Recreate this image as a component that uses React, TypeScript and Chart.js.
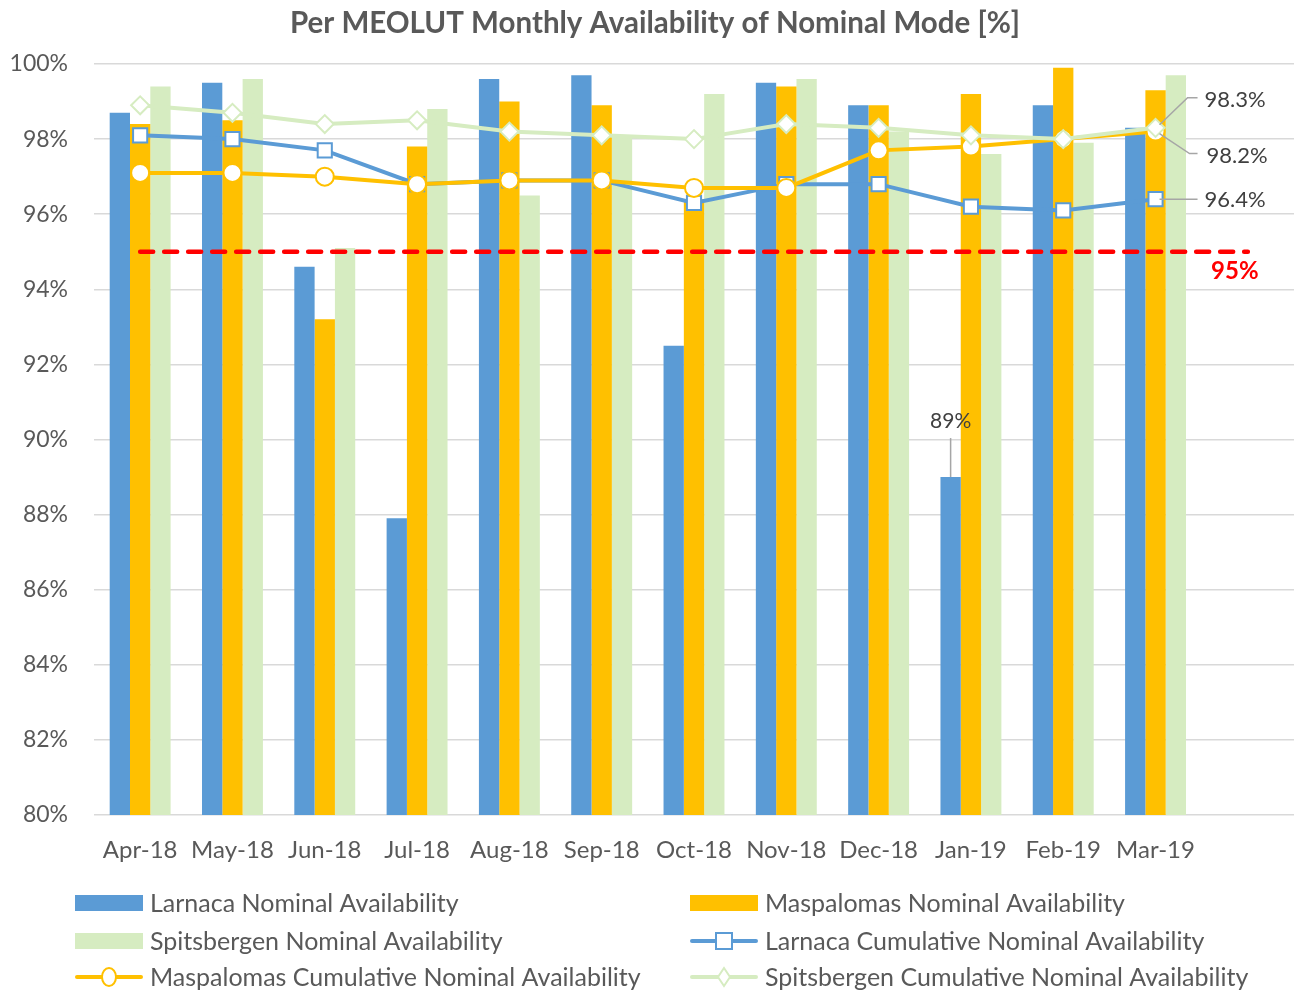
import React, { useEffect, useRef } from "react";
import { Chart, registerables } from "chart.js";

Chart.register(...registerables);

const categories = ["Apr-18", "May-18", "Jun-18", "Jul-18", "Aug-18", "Sep-18", "Oct-18", "Nov-18", "Dec-18", "Jan-19", "Feb-19", "Mar-19", ""];
const larnaca = [98.7, 99.5, 94.6, 87.9, 99.6, 99.7, 92.5, 99.5, 98.9, 89.0, 98.9, 98.3];
const maspalomas = [98.4, 98.5, 93.2, 97.8, 99.0, 98.9, 96.4, 99.4, 98.9, 99.2, 99.9, 99.3];
const spitsbergen = [99.4, 99.6, 95.1, 98.8, 96.5, 98.1, 99.2, 99.6, 98.2, 97.6, 97.9, 99.7];
const larnacaCum = [98.1, 98.0, 97.7, 96.8, 96.9, 96.9, 96.3, 96.8, 96.8, 96.2, 96.1, 96.4];
const maspalomasCum = [97.1, 97.1, 97.0, 96.8, 96.9, 96.9, 96.7, 96.7, 97.7, 97.8, 98.0, 98.2];
const spitsbergenCum = [98.9, 98.7, 98.4, 98.5, 98.2, 98.1, 98.0, 98.4, 98.3, 98.1, 98.0, 98.3];
const threshold = [95, 95, 95, 95, 95, 95, 95, 95, 95, 95, 95, 95, 95];
const yTicks = [80, 82, 84, 86, 88, 90, 92, 94, 96, 98, 100];
const labelledMonth = "Jan-19";

const BLUE = "#5B9BD5";
const ORANGE = "#FFC000";
const GREEN = "#D6ECC1";
const TEXT = "#595959";
const FONT = "Lato, 'Open Sans', sans-serif";

const fmt = (v: number) => v.toFixed(1) + "%";

const annotations = {
  id: "annotations",
  afterDatasetsDraw(chart: any) {
    const ctx = chart.ctx;
    const xs = chart.scales.x;
    const ys = chart.scales.y;
    ctx.save();
    // data label on Larnaca Jan-19 bar
    const idx = categories.indexOf(labelledMonth);
    const barMeta = chart.getDatasetMeta(4);
    const bar = barMeta.data[idx];
    const yTop = ys.getPixelForValue(larnaca[idx]);
    ctx.strokeStyle = "#A6A6A6";
    ctx.lineWidth = 1.5;
    ctx.beginPath();
    ctx.moveTo(bar.x, yTop);
    ctx.lineTo(bar.x, yTop - 39);
    ctx.stroke();
    ctx.fillStyle = "#404040";
    ctx.font = `21px ${FONT}`;
    ctx.textAlign = "center";
    ctx.textBaseline = "middle";
    ctx.fillText(Math.round(larnaca[idx]) + "%", bar.x, yTop - 56);

    // right-side labels for cumulative series
    const last = larnacaCum.length - 1;
    const px = xs.getPixelForValue(last);
    const lblX = px + 49;
    const yS = ys.getPixelForValue(spitsbergenCum[last]);
    const yM = ys.getPixelForValue(maspalomasCum[last]);
    const yL = ys.getPixelForValue(larnacaCum[last]);
    ctx.strokeStyle = "#A6A6A6";
    ctx.lineWidth = 1.5;
    ctx.beginPath();
    ctx.moveTo(px + 4, yS - 3);
    ctx.lineTo(px + 32, yS - 30);
    ctx.lineTo(px + 42, yS - 30);
    ctx.moveTo(px + 4, yM + 2);
    ctx.lineTo(px + 34, yM + 22);
    ctx.lineTo(px + 42, yM + 22);
    ctx.moveTo(px + 4, yL);
    ctx.lineTo(px + 42, yL);
    ctx.stroke();
    ctx.fillStyle = "#404040";
    ctx.textAlign = "left";
    ctx.font = `22px ${FONT}`;
    ctx.fillText(fmt(spitsbergenCum[last]), lblX, yS - 28);
    ctx.fillText(fmt(maspalomasCum[last]), lblX + 2, yM + 24);
    ctx.fillText(fmt(larnacaCum[last]), lblX, yL + 1);

    // 95% label
    const pEnd = xs.getPixelForValue(threshold.length - 1);
    ctx.fillStyle = "#FF0000";
    ctx.font = `bold 24px ${FONT}`;
    ctx.textAlign = "center";
    ctx.fillText(threshold[0] + "%", pEnd - 13, ys.getPixelForValue(threshold[0]) + 20);
    ctx.restore();
  },
  afterDraw(chart: any) {
    const ctx = chart.ctx;
    ctx.save();
    ctx.fillStyle = TEXT;
    ctx.font = `bold 29.5px ${FONT}`;
    ctx.textAlign = "center";
    ctx.textBaseline = "middle";
    ctx.fillText("Per MEOLUT Monthly Availability of Nominal Mode [%]", 655, 23);

    const items = [
      { ds: 4, col: 0, row: 0 },
      { ds: 5, col: 1, row: 0 },
      { ds: 6, col: 0, row: 1 },
      { ds: 3, col: 1, row: 1 },
      { ds: 2, col: 0, row: 2 },
      { ds: 1, col: 1, row: 2 },
    ];
    const colX = [75, 690];
    const rowY = [903, 941, 977];
    ctx.font = `25px ${FONT}`;
    ctx.textAlign = "left";
    items.forEach((it) => {
      const d = chart.data.datasets[it.ds];
      const x = colX[it.col];
      const y = rowY[it.row];
      if (d.type === "bar") {
        ctx.fillStyle = d.backgroundColor;
        ctx.fillRect(x, y - 8, 68, 16);
      } else {
        ctx.strokeStyle = d.borderColor;
        ctx.lineWidth = 4;
        ctx.lineCap = "round";
        ctx.beginPath();
        ctx.moveTo(x + 2, y);
        ctx.lineTo(x + 66, y);
        ctx.stroke();
        const cx = x + 34;
        ctx.fillStyle = "#FFFFFF";
        ctx.strokeStyle = d.pointBorderColor;
        ctx.lineWidth = 2;
        ctx.beginPath();
        if (d.pointStyle === "rect") {
          ctx.rect(cx - 8, y - 8, 16, 16);
        } else if (d.pointStyle === "circle") {
          ctx.ellipse(cx, y, 7, 9, 0, 0, Math.PI * 2);
        } else {
          ctx.moveTo(cx, y - 9);
          ctx.lineTo(cx + 6, y);
          ctx.lineTo(cx, y + 9);
          ctx.lineTo(cx - 6, y);
          ctx.closePath();
        }
        ctx.fill();
        ctx.stroke();
      }
      ctx.fillStyle = TEXT;
      ctx.fillText(d.label, x + 75, y + 1);
    });
    ctx.restore();
  },
};

export default function App() {
  const ref = useRef<HTMLCanvasElement | null>(null);

  useEffect(() => {
    if (!ref.current) return;
    const lineCommon = {
      type: "line" as const,
      borderWidth: 4,
      pointBorderWidth: 2,
      pointBackgroundColor: "#FFFFFF",
      tension: 0,
    };
    const chart = new Chart(ref.current, {
      type: "bar",
      data: {
        labels: categories,
        datasets: [
          {
            ...lineCommon,
            label: "95% target",
            data: threshold,
            borderColor: "#FF0000",
            borderWidth: 4.5,
            borderDash: [13, 11],
            borderCapStyle: "round",
            pointRadius: 0,
            order: 0,
          },
          {
            ...lineCommon,
            label: "Spitsbergen Cumulative Nominal Availability",
            data: spitsbergenCum,
            borderColor: GREEN,
            pointBorderColor: GREEN,
            pointStyle: "rectRot",
            pointRadius: 9,
            order: 1,
          },
          {
            ...lineCommon,
            label: "Maspalomas Cumulative Nominal Availability",
            data: maspalomasCum,
            borderColor: ORANGE,
            pointBorderColor: ORANGE,
            pointStyle: "circle",
            pointRadius: 9,
            order: 2,
          },
          {
            ...lineCommon,
            label: "Larnaca Cumulative Nominal Availability",
            data: larnacaCum,
            borderColor: BLUE,
            pointBorderColor: BLUE,
            pointStyle: "rect",
            pointRadius: 10,
            order: 3,
          },
          {
            type: "bar",
            label: "Larnaca Nominal Availability",
            data: larnaca,
            backgroundColor: BLUE,
            order: 10,
          },
          {
            type: "bar",
            label: "Maspalomas Nominal Availability",
            data: maspalomas,
            backgroundColor: ORANGE,
            order: 10,
          },
          {
            type: "bar",
            label: "Spitsbergen Nominal Availability",
            data: spitsbergen,
            backgroundColor: GREEN,
            order: 10,
          },
        ] as any,
      },
      options: {
        animation: false,
        responsive: true,
        maintainAspectRatio: false,
        layout: { autoPadding: false, padding: { top: 64, right: 4, left: 0, bottom: 0 } },
        datasets: {
          bar: { barPercentage: 1, categoryPercentage: 0.66 },
        },
        plugins: {
          legend: { display: false },
          title: { display: false },
          tooltip: { enabled: false },
        },
        scales: {
          x: {
            grid: { display: false },
            border: { display: false },
            ticks: {
              color: TEXT,
              font: { family: FONT, size: 24 },
              padding: 13,
              maxRotation: 0,
              autoSkip: false,
            },
            afterFit: (scale: any) => {
              scale.height = 175;
              scale.paddingRight = 0;
              scale.paddingLeft = 0;
            },
          },
          y: {
            min: 80,
            max: 100,
            afterBuildTicks: (scale: any) => {
              scale.ticks = yTicks.map((v) => ({ value: v }));
            },
            grid: { color: "#D9D9D9", lineWidth: 1.5, drawTicks: false },
            border: { display: false },
            ticks: {
              color: TEXT,
              font: { family: FONT, size: 23 },
              padding: 26,
              callback: (v: any) => v + "%",
            },
            afterFit: (scale: any) => {
              scale.width = 94;
            },
          },
        },
      },
      plugins: [annotations],
    });
    return () => chart.destroy();
  }, []);

  return (
    <div style={{ position: "fixed", left: 0, top: 0, width: 1298, height: 990, background: "#fff" }}>
      <canvas ref={ref} />
    </div>
  );
}
